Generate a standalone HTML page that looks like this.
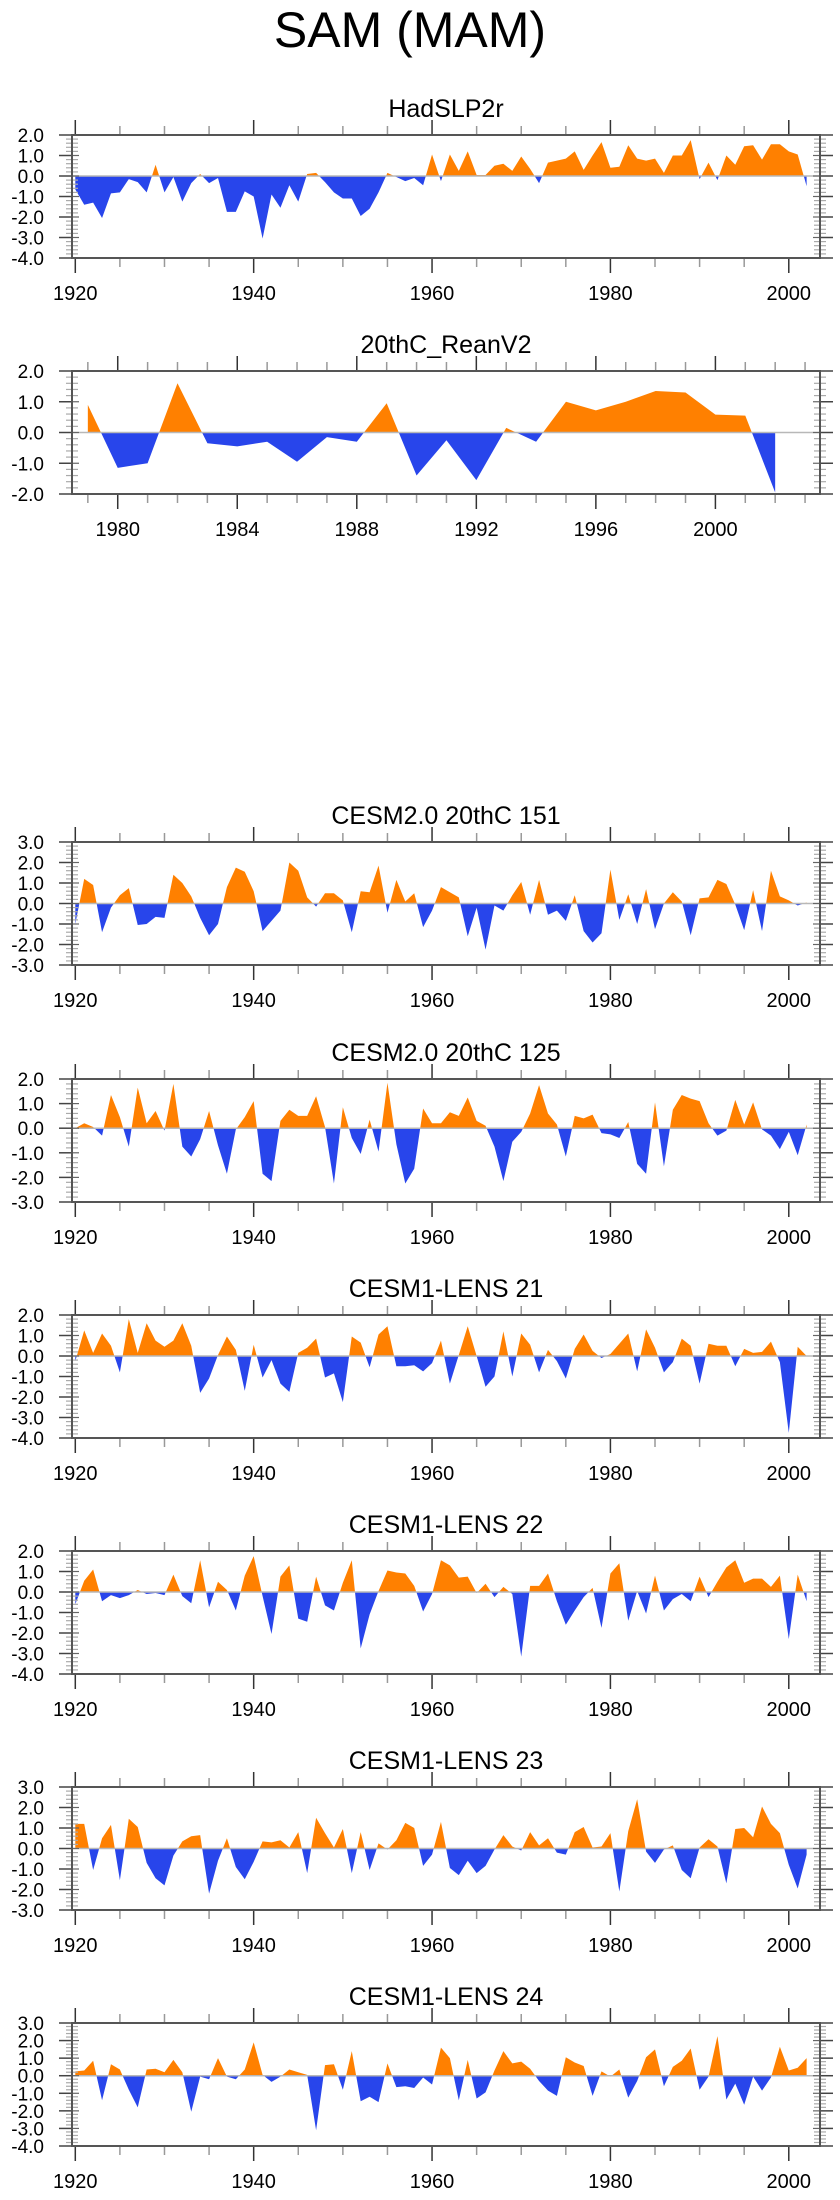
<!DOCTYPE html>
<html><head><meta charset="utf-8"><title>SAM (MAM)</title>
<style>
html,body{margin:0;padding:0;background:#fff;}
svg{display:block;font-family:"Liberation Sans",sans-serif;}
</style></head>
<body>
<svg id="fig" width="840" height="2200" viewBox="0 0 840 2200" xmlns="http://www.w3.org/2000/svg">
<text x="410" y="47" font-size="50" text-anchor="middle" fill="#000">SAM (MAM)</text>
</svg>
<script>
const titles = ["HadSLP2r","20thC_ReanV2","CESM2.0 20thC 151","CESM2.0 20thC 125","CESM1-LENS 21","CESM1-LENS 22","CESM1-LENS 23","CESM1-LENS 24"];
const startYears = [1920,1979,1920,1920,1920,1920,1920,1920];
const yMins = [-4,-2,-3,-3,-4,-4,-3,-4];
const yMaxs = [2,2,3,2,2,2,3,3];
const hadslp2r = [-0.65,-1.4,-1.3,-2.05,-0.85,-0.8,-0.15,-0.3,-0.8,0.55,-0.8,-0.05,-1.25,-0.35,0.1,-0.35,-0.1,-1.75,-1.75,-0.75,-1.0,-3.05,-0.9,-1.55,-0.45,-1.25,0.1,0.15,-0.3,-0.8,-1.1,-1.1,-1.95,-1.6,-0.8,0.15,-0.05,-0.25,-0.1,-0.45,1.05,-0.25,1.05,0.25,1.2,0.05,0.05,0.5,0.6,0.25,0.95,0.35,-0.35,0.65,0.75,0.85,1.2,0.3,1.0,1.65,0.4,0.45,1.5,0.85,0.75,0.85,0.15,1.0,1.0,1.75,-0.15,0.65,-0.2,1.0,0.55,1.45,1.5,0.8,1.55,1.55,1.2,1.05,-0.5];
const reanV2 = [0.9,-1.15,-1.0,1.6,-0.35,-0.45,-0.3,-0.95,-0.15,-0.3,0.95,-1.4,-0.25,-1.55,0.15,-0.3,1.0,0.72,1.0,1.35,1.3,0.58,0.55,-1.95];
const cesm2_151 = [-1.0,1.2,0.9,-1.4,-0.2,0.4,0.75,-1.05,-1.0,-0.65,-0.7,1.4,1.0,0.35,-0.7,-1.55,-1.0,0.8,1.75,1.55,0.6,-1.35,-0.85,-0.35,2.0,1.6,0.3,-0.15,0.5,0.5,0.15,-1.4,0.6,0.55,1.85,-0.45,1.15,0.1,0.5,-1.15,-0.35,0.8,0.55,0.3,-1.6,-0.2,-2.25,-0.1,-0.35,0.4,1.05,-0.55,1.15,-0.55,-0.35,-0.85,0.4,-1.35,-1.9,-1.45,1.65,-0.8,0.45,-1.0,0.7,-1.25,0.0,0.55,0.1,-1.55,0.25,0.3,1.15,0.95,-0.05,-1.3,0.65,-1.35,1.6,0.35,0.15,-0.1,0.05];
const cesm2_125 = [0.0,0.2,0.05,-0.3,1.35,0.45,-0.75,1.65,0.2,0.7,-0.1,1.8,-0.75,-1.15,-0.45,0.7,-0.7,-1.85,-0.05,0.45,1.1,-1.85,-2.15,0.3,0.75,0.5,0.5,1.3,0.05,-2.25,0.85,-0.4,-1.05,0.35,-0.95,1.85,-0.65,-2.25,-1.65,0.8,0.2,0.2,0.65,0.5,1.25,0.3,0.1,-0.75,-2.15,-0.55,-0.15,0.6,1.75,0.6,0.15,-1.15,0.5,0.4,0.55,-0.2,-0.25,-0.4,0.25,-1.45,-1.85,1.05,-1.55,0.75,1.35,1.2,1.1,0.2,-0.3,-0.1,1.15,0.15,1.05,-0.05,-0.3,-0.85,-0.15,-1.1,0.15];
const lens21 = [-0.25,1.25,0.15,1.1,0.5,-0.8,1.8,0.15,1.6,0.75,0.45,0.75,1.6,0.5,-1.8,-1.1,0.05,0.95,0.3,-1.7,0.55,-1.05,-0.2,-1.35,-1.75,0.15,0.4,0.85,-1.05,-0.85,-2.25,0.95,0.65,-0.55,1.05,1.45,-0.5,-0.5,-0.45,-0.75,-0.35,0.75,-1.35,0.05,1.45,0.0,-1.5,-1.0,1.2,-1.0,1.1,0.55,-0.8,0.3,-0.25,-1.1,0.35,1.05,0.25,-0.1,0.1,0.6,1.1,-0.75,1.3,0.4,-0.8,-0.3,0.85,0.5,-1.35,0.6,0.5,0.5,-0.5,0.35,0.15,0.2,0.7,-0.3,-3.75,0.45,0.0];
const lens22 = [-0.6,0.55,1.1,-0.45,-0.15,-0.3,-0.15,0.1,-0.1,-0.05,-0.15,0.85,-0.2,-0.55,1.55,-0.75,0.5,0.1,-0.9,0.8,1.75,-0.2,-2.05,0.75,1.3,-1.3,-1.45,0.75,-0.65,-0.9,0.45,1.55,-2.75,-1.1,0.05,1.05,0.95,0.9,0.3,-0.95,-0.1,1.55,1.3,0.7,0.75,-0.05,0.4,-0.25,0.25,-0.1,-3.15,0.3,0.3,0.9,-0.45,-1.6,-0.9,-0.25,0.2,-1.75,0.9,1.4,-1.4,0.05,-1.05,0.8,-0.9,-0.35,-0.1,-0.45,0.75,-0.25,0.5,1.2,1.55,0.45,0.65,0.65,0.25,0.8,-2.3,0.85,-0.45];
const lens23 = [1.2,1.2,-1.05,0.5,1.15,-1.55,1.45,1.05,-0.7,-1.45,-1.8,-0.35,0.35,0.6,0.65,-2.2,-0.6,0.5,-0.9,-1.5,-0.65,0.35,0.3,0.4,0.05,0.8,-1.2,1.5,0.75,0.05,0.95,-1.2,0.8,-1.05,0.25,-0.05,0.4,1.25,1.0,-0.85,-0.3,1.3,-0.95,-1.3,-0.6,-1.2,-0.85,-0.05,0.65,0.1,-0.1,0.8,0.15,0.5,-0.2,-0.3,0.8,1.05,0.05,0.1,0.75,-2.1,0.85,2.4,-0.15,-0.7,-0.05,0.15,-1.05,-1.45,0.05,0.45,0.1,-1.7,0.95,1.0,0.55,2.05,1.2,0.75,-0.8,-1.95,-0.3];
const lens24 = [0.25,0.3,0.85,-1.4,0.65,0.35,-0.8,-1.8,0.35,0.4,0.2,0.9,0.2,-2.05,-0.05,-0.2,1.0,-0.05,-0.2,0.35,1.9,0.05,-0.35,-0.05,0.35,0.2,0.05,-3.1,0.6,0.65,-0.8,1.4,-1.45,-1.2,-1.5,0.7,-0.65,-0.6,-0.7,-0.1,-0.5,1.6,1.0,-1.4,0.9,-1.3,-0.95,0.3,1.4,0.7,0.8,0.4,-0.3,-0.85,-1.15,1.05,0.75,0.55,-1.15,0.25,-0.05,0.35,-1.25,-0.3,1.05,1.5,-0.6,0.5,0.85,1.55,-0.8,-0.05,2.25,-1.35,-0.45,-1.65,-0.05,-0.85,-0.1,1.65,0.3,0.45,1.0];
const series = [hadslp2r,reanV2,cesm2_151,cesm2_125,lens21,lens22,lens23,lens24];

const NS = "http://www.w3.org/2000/svg";
const svg = document.getElementById("fig");
const boxTops = [135,371,842,1079,1315,1551,1787,2023];
const BOXH = 123, BX0 = 72, BX1 = 820;
const ORANGE = "#FF8000", BLUE = "#2845EB";

function mk(tag, attrs, parent){
  const e = document.createElementNS(NS, tag);
  for (const k in attrs) e.setAttribute(k, attrs[k]);
  (parent||svg).appendChild(e);
  return e;
}

series.forEach((vals, p) => {
  const top = boxTops[p], bot = top + BOXH;
  const y0 = yMins[p], y1 = yMaxs[p];
  const monthly = p === 1;
  const xLo = monthly ? 1978.47 : 1919.63;
  const xHi = 2003.5;
  const X = yr => BX0 + (yr - xLo) / (xHi - xLo) * (BX1 - BX0);
  const Y = v => bot - (v - y0) / (y1 - y0) * BOXH;

  const g = mk("g", {});
  
  

  const t = mk("text", {x: 446, y: top - 18, "font-size": 25, "text-anchor": "middle", fill: "#000"}, g);
  t.textContent = titles[p];
  
  

  const pts = [];
  for (let i = 0; i < vals.length; i++) {
    const yr = startYears[p] + i;
    if (i > 0) {
      const a = vals[i-1], b = vals[i];
      if ((a > 0 && b < 0) || (a < 0 && b > 0)) {
        const f = a / (a - b);
        pts.push([yr - 1 + f, 0]);
      }
    }
    pts.push([yr, vals[i]]);
  }
  const first = pts[0][0], last = pts[pts.length-1][0];
  let posD = "M" + X(first) + "," + Y(0);
  let negD = "M" + X(first) + "," + Y(0);
  pts.forEach(q => {
    posD += " L" + X(q[0]).toFixed(2) + "," + Y(Math.max(q[1],0)).toFixed(2);
    negD += " L" + X(q[0]).toFixed(2) + "," + Y(Math.min(q[1],0)).toFixed(2);
  });
  posD += " L" + X(last) + "," + Y(0) + " Z";
  negD += " L" + X(last) + "," + Y(0) + " Z";
  const pp = mk("path", {d: posD, fill: ORANGE, stroke: "none"}, g);
  
  
  const np = mk("path", {d: negD, fill: BLUE, stroke: "none"}, g);
  
  

  const zl = mk("line", {x1: BX0, x2: BX1, y1: Y(0), y2: Y(0), stroke: "#b8b8b8", "stroke-width": 1.5}, g);
  
  

  for (let v = y0; v <= y1 + 1e-9; v += 0.2) {
    const vv = Math.round(v*10)/10;
    const yy = Y(vv);
    const major = Math.abs(vv - Math.round(vv)) < 1e-6;
    if (major) {
      mk("line", {x1: BX0-13, x2: BX0, y1: yy, y2: yy, stroke: "#444", "stroke-width": 1.5}, g);
      mk("line", {x1: BX1, x2: BX1+13, y1: yy, y2: yy, stroke: "#444", "stroke-width": 1.5}, g);
      mk("line", {x1: BX0, x2: BX0+7, y1: yy, y2: yy, stroke: "#666", "stroke-width": 1.2}, g);
      mk("line", {x1: BX1-7, x2: BX1, y1: yy, y2: yy, stroke: "#666", "stroke-width": 1.2}, g);
      const lab = mk("text", {x: 44, y: yy + 7, "font-size": 19, "text-anchor": "end", fill: "#000"}, g);
      lab.textContent = vv.toFixed(1);
      
      
    } else {
      mk("line", {x1: BX0, x2: BX0+6, y1: yy, y2: yy, stroke: "#aaa", "stroke-width": 1.2}, g);
      mk("line", {x1: BX1-6, x2: BX1, y1: yy, y2: yy, stroke: "#aaa", "stroke-width": 1.2}, g);
      mk("line", {x1: BX0-6, x2: BX0, y1: yy, y2: yy, stroke: "#aaa", "stroke-width": 1.2}, g);
      mk("line", {x1: BX1, x2: BX1+6, y1: yy, y2: yy, stroke: "#aaa", "stroke-width": 1.2}, g);
    }
  }

  const step = monthly ? 1 : 5, majorStep = monthly ? 4 : 20;
  const startT = monthly ? 1979 : 1920, endT = monthly ? 2003 : 2000;
  for (let yr = startT; yr <= endT; yr += step) {
    const xx = X(yr);
    const major = (yr - (monthly ? 1980 : 1920)) % majorStep === 0;
    const len = major ? 15 : 9;
    const col = major ? "#333" : "#999";
    mk("line", {x1: xx, x2: xx, y1: top - len, y2: top, stroke: col, "stroke-width": 1.5}, g);
    mk("line", {x1: xx, x2: xx, y1: bot, y2: bot + len, stroke: col, "stroke-width": 1.5}, g);
    if (major) {
      const lab = mk("text", {x: xx, y: bot + 42, "font-size": 20, "text-anchor": "middle", fill: "#000"}, g);
      lab.textContent = String(yr);
      
      
    }
  }

  const box = mk("rect", {x: BX0, y: top, width: BX1 - BX0, height: BOXH, fill: "none", stroke: "#555", "stroke-width": 2}, g);
  
  
});
</script>
</body></html>
